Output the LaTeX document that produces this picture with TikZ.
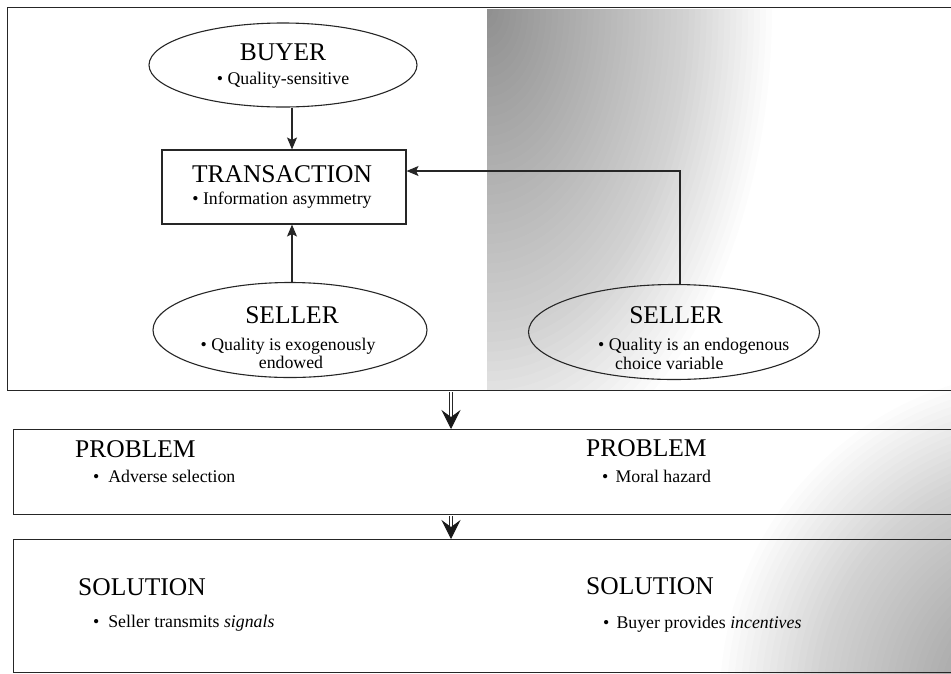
\documentclass[tikz,border=0pt]{standalone}
\usepackage{fontspec}
\setmainfont{Liberation Serif}
\usetikzlibrary{arrows.meta,shapes.geometric}

\begin{document}
\begin{tikzpicture}[x=1pt,y=-1pt,
  panel/.style={draw=black!85, line width=1.3pt, rectangle, inner sep=0pt, anchor=north west},
  oval/.style={draw=black!85, line width=1.1pt, ellipse, inner sep=0pt},
  txbox/.style={draw=black!85, line width=1.1pt, rectangle, inner sep=0pt},
  ttl/.style={font=\fontsize{25.5pt}{28pt}\selectfont, inner sep=0pt},
  bul/.style={font=\fontsize{17.8pt}{19pt}\selectfont, inner sep=0pt},
  arr/.style={draw=black!85, line width=1.2pt, -{Stealth[length=12pt,width=10pt,inset=2.5pt]}},
  shaft/.style={draw=black!85, line width=1pt, double=white, double distance=2.8pt},
  bighead/.style={draw=black!90, line width=1pt, -{Stealth[length=19pt,width=19pt,inset=7pt]}},
  wash/.style={fill=black, fill opacity=0.0125, draw=none}
]
\useasboundingbox (0,0) rectangle (951,673);
\clip (0,0) rectangle (951,673);

% grey wash in the right half of the upper panel, darkest at its top left corner
\begin{scope}
  \clip (487,9) rectangle (951,389);
  \foreach \k in {1,...,48}
    \path[wash] (487,9) ellipse ({5.9375*\k} and {9.7917*\k});
\end{scope}
% grey wash towards the lower right corner
\foreach \k in {1,...,48}
  \path[wash] (1050,700) ellipse ({6.875*\k} and {6.875*\k});

% panels
\node[panel, minimum width=953pt, minimum height=383pt] (top) at (7,7) {};
\node[panel, minimum width=947pt, minimum height=85pt] (mid) at (13,429) {};
\node[panel, minimum width=947pt, minimum height=133pt] (bot) at (13,539) {};

% shapes of the upper panel
\node[oval, minimum width=268pt, minimum height=84pt] (buyer) at (283,65) {};
\node[txbox, minimum width=244pt, minimum height=74pt] (trans) at (284,187) {};
\node[oval, minimum width=274pt, minimum height=95pt] (sellerA) at (290,330) {};
\node[oval, minimum width=291pt, minimum height=95pt] (sellerB) at (674,332) {};

% texts
\node[ttl, anchor=base] (buyerT) at (283,60) {BUYER};
\node[bul, anchor=base] (buyerB) at (283,84) {\textbullet\ Quality-sensitive};
\node[ttl, anchor=base] (transT) at (282,182) {TRANSACTION};
\node[bul, anchor=base] (transB) at (282,204) {\textbullet\ Information asymmetry};
\node[ttl, anchor=base] (sellerAT) at (292,323) {SELLER};
\node[bul, anchor=base] (sellerAB) at (288,350) {\textbullet\ Quality is exogenously};
\node[bul, anchor=base] (sellerAC) at (291,368) {endowed};
\node[ttl, anchor=base] (sellerBT) at (676,323) {SELLER};
\node[bul, anchor=base west] (sellerBB) at (598,350) {\textbullet\ Quality is an endogenous};
\node[bul, anchor=base west] (sellerBC) at (615,369) {choice variable};

\node[ttl, anchor=base west] (probL) at (75,457) {PROBLEM};
\node[bul, anchor=base west] (probLB) at (93,482) {\textbullet\hspace{0.5em}Adverse selection};
\node[ttl, anchor=base west] (probR) at (586,456) {PROBLEM};
\node[bul, anchor=base west] (probRB) at (602,482) {\textbullet\hspace{0.4em}Moral hazard};
\node[ttl, anchor=base west] (solL) at (78,595) {SOLUTION};
\node[bul, anchor=base west] (solLB) at (93,627) {\textbullet\hspace{0.5em}Seller transmits \textit{signals}};
\node[ttl, anchor=base west] (solR) at (586,594) {SOLUTION};
\node[bul, anchor=base west] (solRB) at (603,628) {\textbullet\hspace{0.4em}Buyer provides \textit{incentives}};

% connectors in the upper panel
\coordinate (colL) at (292,0);
\coordinate (bend) at (680,171);
\draw[arr] (buyer.south -| colL) -- (trans.north -| colL);
\draw[arr] (sellerA.north -| colL) -- (trans.south -| colL);
\draw[arr] (sellerB.north -| bend) -- (bend) -- (trans.east |- bend);

% double arrows between panels
\coordinate (colM) at (451,0);
\coordinate (t1) at (top.south -| colM);
\coordinate (m1) at (mid.north -| colM);
\coordinate (m2) at (mid.south -| colM);
\coordinate (b1) at (bot.north -| colM);
\draw[shaft] ([yshift=-0.7pt]t1) -- ([yshift=12pt]m1);
\draw[bighead] ([yshift=12pt]m1) -- (m1);
\draw[shaft] ([yshift=-0.7pt]m2) -- ([yshift=12pt]b1);
\draw[bighead] ([yshift=12pt]b1) -- (b1);
\end{tikzpicture}
\end{document}
